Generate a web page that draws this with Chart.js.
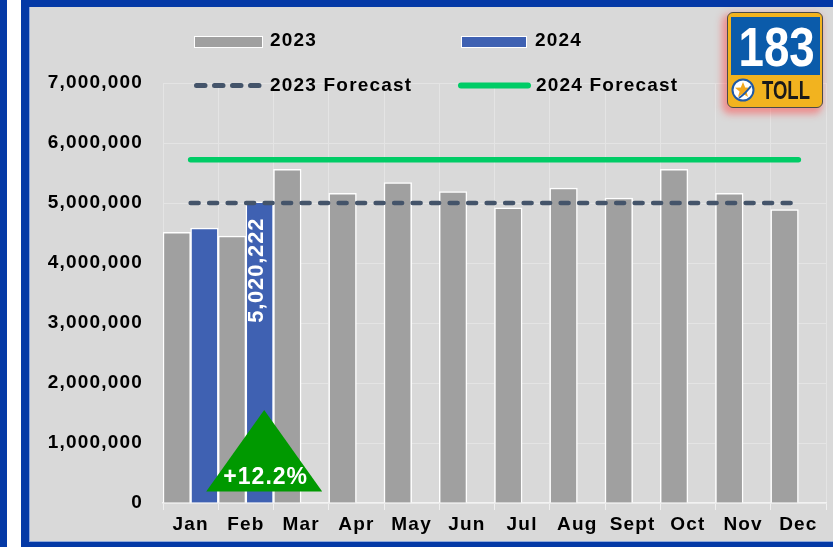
<!DOCTYPE html>
<html><head><meta charset="utf-8">
<script src="https://cdn.jsdelivr.net/npm/chart.js@4"></script>
<style>
html,body{margin:0;padding:0;width:833px;height:547px;overflow:hidden;background:#fff;font-family:'Liberation Sans',Arial,sans-serif;}
#strip{position:absolute;left:0;top:0;width:7px;height:547px;background:#0439A6;}
#frame{position:absolute;left:21px;top:0;width:840px;height:547px;box-sizing:border-box;border-left:8px solid #0439A6;border-top:7px solid #0439A6;border-bottom:5px solid #0439A6;background:#D9D9D9;box-shadow:inset 1px -1px 0 #8FA8DA;}
#c{position:absolute;left:0;top:0;}
.lg{position:absolute;font-weight:bold;font-size:19px;letter-spacing:1.2px;color:#000;line-height:20px;white-space:nowrap;}
.box{position:absolute;height:12px;box-sizing:border-box;border:1.5px solid #fff;}
#logo{position:absolute;left:727px;top:12px;width:96px;height:96px;box-sizing:border-box;border:1.5px solid #4a4a4a;border-radius:6px;background:#F2B31F;box-shadow:-3px 4px 7px 2px rgba(255,70,70,0.5);z-index:5;}
#logoBlue{position:absolute;left:2.5px;top:3.5px;width:89px;height:58px;background:#0B5BAA;overflow:hidden;}
#logoBlue span{position:absolute;left:0;top:1px;width:89px;text-align:center;color:#fff;font-weight:bold;font-size:55px;line-height:58px;transform:scaleX(0.83);}
#star{position:absolute;left:2.5px;top:64.5px;}
#toll{position:absolute;left:33.5px;top:65px;font-weight:bold;font-size:25px;line-height:25px;color:#1a1a1a;transform:scaleX(0.74);transform-origin:left top;}
</style>
</head><body>
<div id="strip"></div>
<div id="frame"></div>
<canvas id="c" width="833" height="547"></canvas>

<div class="box" style="left:194px;top:36px;width:69px;background:#A0A0A0;"></div>
<div class="lg" style="left:270px;top:30px;">2023</div>
<div class="box" style="left:461px;top:36px;width:66px;background:#3F61B2;"></div>
<div class="lg" style="left:535px;top:30px;">2024</div>
<svg style="position:absolute;left:190px;top:79px;" width="80" height="14"><line x1="6.5" y1="6.5" x2="72" y2="6.5" stroke="#44546A" stroke-width="5" stroke-dasharray="8.5 9.5" stroke-linecap="round"/></svg>
<div class="lg" style="left:270px;top:75px;">2023 Forecast</div>
<svg style="position:absolute;left:452px;top:79px;" width="86" height="14"><line x1="9" y1="6.5" x2="76" y2="6.5" stroke="#00CC66" stroke-width="6" stroke-linecap="round"/></svg>
<div class="lg" style="left:536px;top:75px;">2024 Forecast</div>

<div id="logo">
  <div id="logoBlue"><span>183</span></div>
  <svg id="star" width="24" height="24" viewBox="0 0 24 24">
    <circle cx="12" cy="12" r="10.5" fill="#fff" stroke="#1F5AA6" stroke-width="2"/>
    <polygon points="12,4 14.2,9.6 20,9.8 15.4,13.4 17,19 12,15.7 7,19 8.6,13.4 4,9.8 9.8,9.6" fill="#F2A81D"/>
    <path d="M8 20 Q14 16 20 8" stroke="#1F5AA6" stroke-width="2" fill="none"/>
  </svg>
  <div id="toll">TOLL</div>
</div>

<script>
const months = ['Jan','Feb','Mar','Apr','May','Jun','Jul','Aug','Sept','Oct','Nov','Dec'];
const sales2023 = [4510000, 4450000, 5560000, 5160000, 5340000, 5190000, 4920000, 5250000, 5080000, 5560000, 5160000, 4890000];
const sales2024 = [4580000, 5020222, null, null, null, null, null, null, null, null, null, null];
const forecast2023 = [5000000, 5000000, 5000000, 5000000, 5000000, 5000000, 5000000, 5000000, 5000000, 5000000, 5000000, 5000000];
const forecast2024 = [5720000, 5720000, 5720000, 5720000, 5720000, 5720000, 5720000, 5720000, 5720000, 5720000, 5720000, 5720000];
const yTickLabels = ['0','1,000,000','2,000,000','3,000,000','4,000,000','5,000,000','6,000,000','7,000,000'];
const changeLabel = '+12.2%';
const triApex = 1550000;
const triBase = 190000;

const FAM = "'Liberation Sans', Arial, sans-serif";

const spacing = {
  id: 'spacing',
  beforeUpdate(c){ c.ctx.letterSpacing = '1.2px'; },
  beforeDraw(c){ c.ctx.letterSpacing = '1.2px'; }
};

const annot = {
  id: 'annot',
  afterDatasetsDraw(chart){
    const ctx = chart.ctx, y = chart.scales.y;
    const bar = chart.getDatasetMeta(3).data[1];
    ctx.save();
    ctx.letterSpacing = '0.8px';
    ctx.font = 'bold 22px ' + FAM;
    ctx.fillStyle = '#fff';
    ctx.translate(bar.x - 3, bar.y + 16);
    ctx.rotate(-Math.PI / 2);
    ctx.textAlign = 'right';
    ctx.textBaseline = 'middle';
    ctx.fillText(sales2024[1].toLocaleString('en-US'), 0, 0);
    ctx.restore();
    const cx = bar.x + 4.5;
    const top = y.getPixelForValue(triApex), base = y.getPixelForValue(triBase);
    ctx.save();
    ctx.fillStyle = '#009900';
    ctx.beginPath();
    ctx.moveTo(cx, top);
    ctx.lineTo(cx + 58, base);
    ctx.lineTo(cx - 58, base);
    ctx.closePath();
    ctx.fill();
    ctx.letterSpacing = '1px';
    ctx.font = 'bold 23px ' + FAM;
    ctx.fillStyle = '#fff';
    ctx.textAlign = 'center';
    ctx.textBaseline = 'alphabetic';
    ctx.fillText(changeLabel, cx + 1.5, base - 7.5);
    ctx.restore();
  }
};

new Chart(document.getElementById('c'), {
  data: {
    labels: months,
    datasets: [
      {type:'line', label:'2023 Forecast', data: forecast2023, borderColor:'#44546A', borderWidth:4.5, borderDash:[8,10.5], borderCapStyle:'round', pointRadius:0, fill:false, order:0},
      {type:'line', label:'2024 Forecast', data: forecast2024, borderColor:'#00CC66', borderWidth:5.5, borderCapStyle:'round', pointRadius:0, fill:false, order:0},
      {type:'bar', label:'2023', data: sales2023, backgroundColor:'#A0A0A0', borderColor:'#FFFFFF', borderWidth:1.5, barPercentage:1, categoryPercentage:1, order:1},
      {type:'bar', label:'2024', data: sales2024, backgroundColor:'#3F61B2', borderColor:'#FFFFFF', borderWidth:1.5, barPercentage:1, categoryPercentage:1, order:1}
    ]
  },
  options: {
    responsive:false, animation:false, devicePixelRatio:1,
    layout:{padding:{left:0,right:7,top:83,bottom:0}},
    plugins:{legend:{display:false}, tooltip:{enabled:false}},
    scales:{
      x:{
        grid:{offset:true, color:'#E4E4E4', lineWidth:1, tickLength:7, tickColor:'#F0F0F0'},
        border:{color:'#F2F2F2', width:1.5},
        ticks:{font:{family:FAM, size:19, weight:'bold'}, color:'#000', padding:3},
        afterFit(s){ s.height = 44; }
      },
      y:{
        min:0, max:7000000,
        ticks:{stepSize:1000000, callback:(v,i)=>yTickLabels[i], font:{family:FAM, size:19, weight:'bold'}, color:'#000', padding:20},
        grid:{color:'#E4E4E4', drawTicks:false},
        border:{display:false},
        afterFit(s){ s.width = 163; }
      }
    }
  },
  plugins:[spacing, annot]
});
</script>
</body></html>
